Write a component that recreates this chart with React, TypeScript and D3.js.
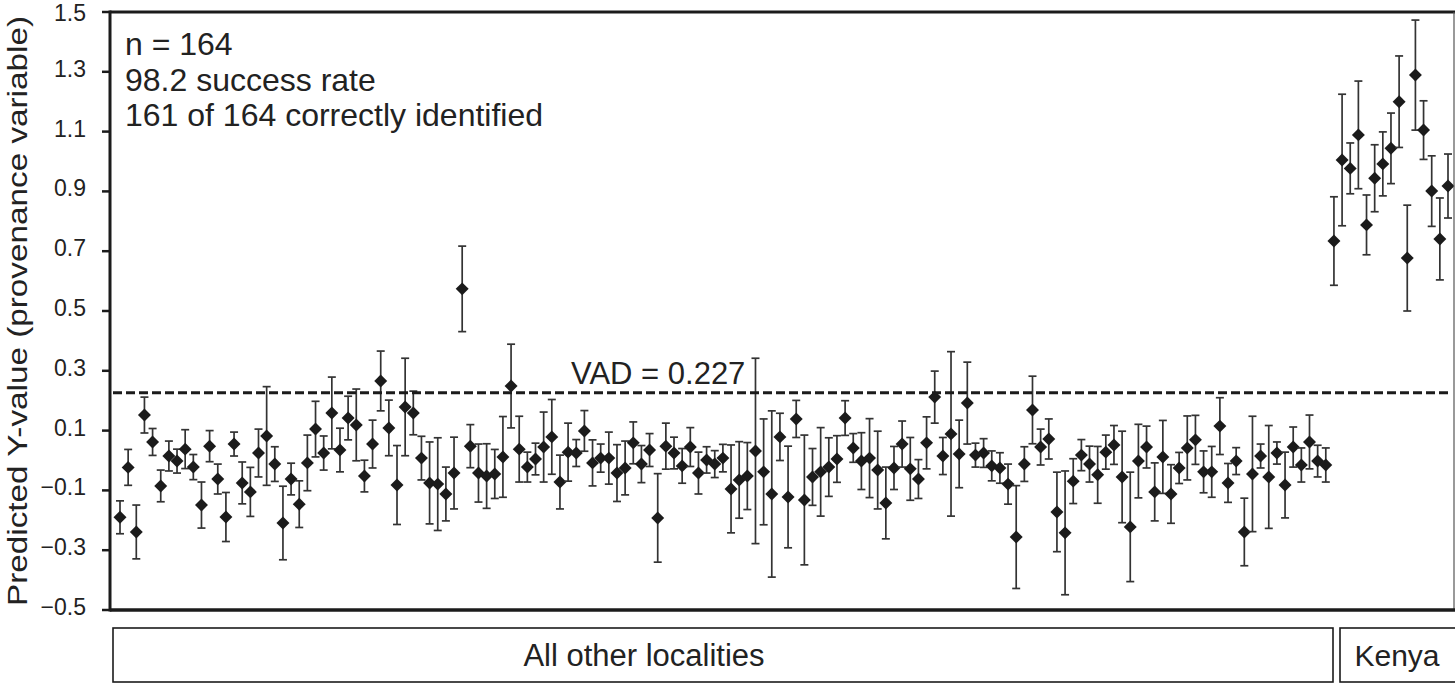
import React from "react";
import * as d3 from "d3";

const width = 1455;
const height = 684;

// predicted Y-value and error half-width, "All other localities" (149 specimens)
const otherValues = [
  -0.19, -0.023, -0.239, 0.152, 0.062, -0.085, 0.015, -0.002, 0.038, -0.022,
  -0.149, 0.048, -0.062, -0.189, 0.055, -0.075, -0.105, 0.025, 0.082, -0.012,
  -0.209, -0.062, -0.146, -0.008, 0.105, 0.025, 0.159, 0.035, 0.142, 0.119,
  -0.052, 0.055, 0.266, 0.109, -0.082, 0.179, 0.159, 0.008, -0.075, -0.079,
  -0.112, -0.042, 0.574, 0.048, -0.042, -0.052, -0.045, 0.012, 0.249, 0.038,
  -0.022, 0.005, 0.045, 0.079, -0.072, 0.028, 0.025, 0.099, -0.008, 0.008,
  0.008, -0.042, -0.025, 0.059, -0.012, 0.035, -0.192, 0.048, 0.025, -0.018,
  0.045, -0.042, 0.002, -0.012, 0.008, -0.095, -0.065, -0.052, 0.032, -0.038,
  -0.112, 0.079, -0.122, 0.139, -0.132, -0.055, -0.038, -0.022, 0.005, 0.142,
  0.042, -0.002, 0.008, -0.032, -0.142, -0.025, 0.055, -0.028, -0.062, 0.059,
  0.212, 0.015, 0.089, 0.022, 0.192, 0.018, 0.025, -0.018, -0.025, -0.079,
  -0.256, -0.012, 0.169, 0.045, 0.072, -0.172, -0.242, -0.069, 0.018, -0.012,
  -0.048, 0.028, 0.052, -0.055, -0.222, -0.002, 0.045, -0.105, 0.012, -0.112,
  -0.025, 0.042, 0.069, -0.038, -0.038, 0.115, -0.075, -0.002, -0.239, -0.045,
  0.015, -0.055, 0.025, -0.082, 0.045, -0.015, 0.062, -0.002, -0.015,
];
const otherErrors = [
  0.055, 0.06, 0.09, 0.06, 0.045, 0.053, 0.05, 0.04, 0.065, 0.042,
  0.077, 0.052, 0.05, 0.082, 0.04, 0.07, 0.082, 0.08, 0.165, 0.058,
  0.123, 0.053, 0.078, 0.093, 0.093, 0.057, 0.12, 0.073, 0.073, 0.12,
  0.053, 0.08, 0.1, 0.093, 0.132, 0.163, 0.073, 0.073, 0.137, 0.155,
  0.09, 0.12, 0.143, 0.072, 0.097, 0.108, 0.082, 0.135, 0.14, 0.11,
  0.05, 0.053, 0.117, 0.125, 0.09, 0.097, 0.045, 0.068, 0.077, 0.047,
  0.087, 0.095, 0.09, 0.07, 0.062, 0.055, 0.148, 0.077, 0.053, 0.058,
  0.065, 0.07, 0.044, 0.045, 0.046, 0.147, 0.128, 0.112, 0.31, 0.177,
  0.278, 0.079, 0.17, 0.062, 0.217, 0.095, 0.148, 0.098, 0.078, 0.058,
  0.048, 0.095, 0.132, 0.13, 0.12, 0.072, 0.077, 0.105, 0.065, 0.087,
  0.087, 0.062, 0.275, 0.113, 0.137, 0.04, 0.048, 0.05, 0.051, 0.067,
  0.172, 0.058, 0.113, 0.06, 0.067, 0.133, 0.207, 0.075, 0.052, 0.06,
  0.095, 0.057, 0.065, 0.153, 0.183, 0.123, 0.07, 0.097, 0.122, 0.098,
  0.052, 0.107, 0.082, 0.07, 0.085, 0.095, 0.065, 0.045, 0.113, 0.193,
  0.04, 0.172, 0.037, 0.11, 0.067, 0.057, 0.09, 0.053, 0.057,
];

// Kenya (15 specimens)
const kenyaValues = [
  0.734, 1.005, 0.977, 1.089, 0.788, 0.944, 0.992, 1.044, 1.2, 0.677,
  1.289, 1.105, 0.901, 0.741, 0.918,
];
const kenyaErrors = [
  0.148, 0.22, 0.085, 0.18, 0.1, 0.112, 0.107, 0.118, 0.153, 0.177,
  0.184, 0.098, 0.118, 0.137, 0.107,
];

const yTicks = [-0.5, -0.3, -0.1, 0.1, 0.3, 0.5, 0.7, 0.9, 1.1, 1.3, 1.5];
const vad = 0.227;
const notes = ["n = 164", "98.2 success rate", "161 of 164 correctly identified"];
const groups = ["All other localities", "Kenya"];

const values = [...otherValues, ...kenyaValues];
const errors = [...otherErrors, ...kenyaErrors];

const left = 110;
const right = 1454;
const top = 12;
const bottom = 610;

const x = d3.scaleLinear().domain([0, values.length - 1]).range([120, 1448]);
const y = d3.scaleLinear().domain([-0.5, 1.5]).range([bottom, top]);
const diamond = d3.symbol(d3.symbolSquare, 84)()!;
const font = "'Liberation Sans', Arial, Helvetica, sans-serif";
const ink = "#1b1b1b";
const textInk = "#222";

export default function App() {
  return (
    <svg
      width={width}
      height={height}
      style={{ position: "absolute", left: 0, top: 0, background: "#fff" }}
      fontFamily={font}
    >
      {/* error bars and markers */}
      {values.map((v, i) => {
        const cx = x(i);
        const y0 = y(v + errors[i]);
        const y1 = y(v - errors[i]);
        return (
          <g key={i} stroke="#333" strokeWidth={1.7}>
            <line x1={cx} x2={cx} y1={y0} y2={y1} />
            <line x1={cx - 4} x2={cx + 4} y1={y0} y2={y0} />
            <line x1={cx - 4} x2={cx + 4} y1={y1} y2={y1} />
            <path d={diamond} transform={`translate(${cx},${y(v)}) rotate(45)`} fill={ink} stroke="none" />
          </g>
        );
      })}

      {/* VAD line */}
      <line x1={left + 3} x2={right - 4} y1={y(vad)} y2={y(vad)} stroke={ink} strokeWidth={3} strokeDasharray="9 4" />
      <text x={571} y={y(vad) - 9} fontSize={31} fill={textInk}>VAD = {vad}</text>

      {/* frame */}
      <line x1={left} x2={width} y1={top} y2={top} stroke={ink} strokeWidth={3} />
      <line x1={right} x2={right} y1={top} y2={bottom} stroke="#555" strokeWidth={1.2} />
      <line x1={left} x2={left} y1={top - 1.5} y2={bottom + 1.5} stroke={ink} strokeWidth={3} />
      <line x1={left} x2={width} y1={bottom} y2={bottom} stroke={ink} strokeWidth={3.5} />

      {/* y axis */}
      {yTicks.map((t) => (
        <g key={t}>
          <line x1={left - 8} x2={left} y1={y(t)} y2={y(t)} stroke={ink} strokeWidth={2.5} />
          <text x={86} y={Math.max(y(t) - 3, 13)} dy="0.35em" textAnchor="end" fontSize={23} fill={textInk}>
            {d3.format(".1f")(t)}
          </text>
        </g>
      ))}
      <text
        transform={`translate(27,${(top + bottom) / 2}) rotate(-90)`}
        textAnchor="middle"
        fontSize={27}
        textLength={590}
        lengthAdjust="spacingAndGlyphs"
        fill={textInk}
      >
        Predicted Y-value (provenance variable)
      </text>

      {/* notes */}
      {notes.map((n, i) => (
        <text key={n} x={125} y={55 + i * 35.5} fontSize={32} fill={textInk}>{n}</text>
      ))}

      {/* group boxes */}
      <rect x={113} y={628} width={1220} height={54} fill="none" stroke={ink} strokeWidth={1.6} />
      <rect x={1340} y={628} width={130} height={54} fill="none" stroke={ink} strokeWidth={1.6} />
      <text x={644} y={666} textAnchor="middle" fontSize={31} fill={textInk}>{groups[0]}</text>
      <text x={1397} y={666} textAnchor="middle" fontSize={30} fill={textInk}>{groups[1]}</text>
    </svg>
  );
}
